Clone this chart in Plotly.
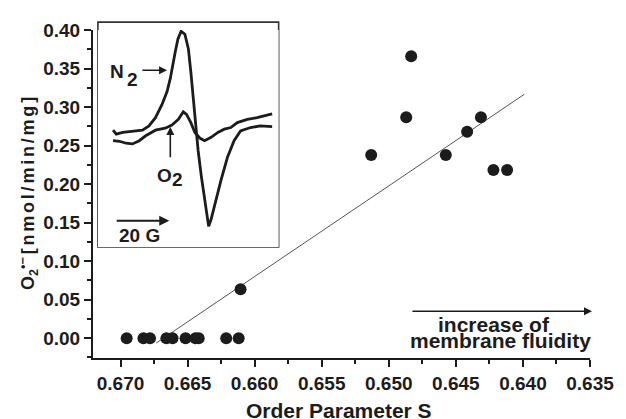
import plotly.graph_objects as go

# ---------------- data ----------------
# main scatter: order parameter S vs superoxide production
order_s = [0.66954, 0.66829, 0.66780, 0.66658, 0.66612, 0.66515, 0.66441, 0.66417,
           0.66212, 0.66119, 0.66105,
           0.65131, 0.64833, 0.64870, 0.64575, 0.64416, 0.64313, 0.64220, 0.64118]
superoxide = [0.0, 0.0, 0.0, 0.0, 0.0, 0.0, 0.0, 0.0,
              0.0, 0.0, 0.0636,
              0.238, 0.366, 0.287, 0.238, 0.268, 0.287, 0.2185, 0.2185]

# linear fit line end points
fit_x = [0.66734, 0.63989]
fit_y = [-0.0064, 0.3168]

# inset ESR spectra (field in G, intensity in arbitrary units)
n2_field = [5.6, 6.8, 9.2, 12.8, 16.5, 18.9, 21.3, 23.7, 25.6, 26.8, 27.6, 28.6, 29.6,
            30.8, 32.2, 33.5, 34.4, 35.3, 36.1, 37.1, 38.3, 39.5, 41.0, 41.9, 43.7,
            45.6, 48.0, 50.4, 52.8, 56.5, 60.1, 64.5]
n2_signal = [4, 0, 1.7, 2.7, 4, 8.3, 16.7, 30, 43.3, 56.7, 70, 83.3, 96.7,
             104.7, 101.7, 86.7, 63.3, 36.7, 10, -16.7, -43.3, -66.7, -94, -86.7, -66.7,
             -46.7, -23.3, -6.7, 3.3, 6.7, 8.3, 7.7]
o2_field = [5.6, 8.0, 10.4, 12.8, 15.3, 17.7, 21.3, 24.9, 27.4, 29.8, 31.6, 32.8, 34.4,
            35.9, 37.7, 39.5, 41.9, 44.4, 46.8, 49.2, 51.6, 55.3, 58.9, 61.3, 64.5]
o2_signal = [-6.7, -7.3, -9.3, -10, -6.7, -1.7, 4, 6, 9.3, 15, 22.7, 20, 11.7,
             1.7, -4, -6.7, -3.3, 1.7, 5, 6.7, 11.7, 15, 16.7, 18.3, 20.7]

x_range = [0.67205, 0.635]
y_range = [-0.0258, 0.4002]
x_ticks = [0.670, 0.665, 0.660, 0.655, 0.650, 0.645, 0.640, 0.635]
x_ticklabels = ["0.670", "0.665", "0.660", "0.655", "0.650", "0.645", "0.640", "0.635"]
x_minor = [0.6675, 0.6625, 0.6575, 0.6525, 0.6475, 0.6425, 0.6375]
y_ticks = [0.00, 0.05, 0.10, 0.15, 0.20, 0.25, 0.30, 0.35, 0.40]
y_ticklabels = ["0.00", "0.05", "0.10", "0.15", "0.20", "0.25", "0.30", "0.35", "0.40"]
y_minor = [-0.025, 0.025, 0.075, 0.125, 0.175, 0.225, 0.275, 0.325, 0.375]

INK = "#1c1c1c"
FONT = "Liberation Sans"

fig = go.Figure()

fig.add_trace(go.Scatter(x=fit_x, y=fit_y, mode="lines",
                         line=dict(color="#555555", width=1), showlegend=False,
                         hoverinfo="skip"))
fig.add_trace(go.Scatter(x=order_s, y=superoxide, mode="markers",
                         marker=dict(color=INK, size=12, line=dict(width=0)),
                         showlegend=False, cliponaxis=False))

fig.add_trace(go.Scatter(x=n2_field, y=n2_signal, mode="lines", xaxis="x2", yaxis="y2",
                         line=dict(color=INK, width=2.8), showlegend=False))
fig.add_trace(go.Scatter(x=o2_field, y=o2_signal, mode="lines", xaxis="x2", yaxis="y2",
                         line=dict(color=INK, width=2.8), showlegend=False))

tickfont = dict(family=FONT, size=19, color=INK)

# the page body adds an 8 px offset; the figure is sized to fill the window after it
fig.update_layout(
    width=618, height=411,
    margin=dict(l=85, r=27, t=16, b=61),
    paper_bgcolor="white", plot_bgcolor="white",
    xaxis=dict(range=x_range, tickmode="array", tickvals=x_ticks,
               ticktext=["<b>%s</b>" % t for t in x_ticklabels],
               ticks="outside", ticklen=7, tickwidth=1.5, tickcolor=INK,
               showline=True, linecolor=INK, linewidth=2, showgrid=False, zeroline=False,
               tickfont=tickfont,
               minor=dict(tickmode="array", tickvals=x_minor,
                          ticks="outside", ticklen=4, tickwidth=1.5, tickcolor=INK)),
    yaxis=dict(range=y_range, tickmode="array", tickvals=y_ticks,
               ticktext=["<b>%s</b>" % t for t in y_ticklabels],
               ticks="outside", ticklen=7, tickwidth=1.5, tickcolor=INK,
               showline=True, linecolor=INK, linewidth=2, showgrid=False, zeroline=False,
               tickfont=tickfont,
               minor=dict(tickmode="array", tickvals=y_minor,
                          ticks="outside", ticklen=4, tickwidth=1.5, tickcolor=INK)),
    xaxis2=dict(domain=[0.00988, 0.3735], range=[0, 66.9], anchor="y2",
                visible=False, fixedrange=True),
    yaxis2=dict(domain=[0.3383, 1.0], range=[-115, 106], anchor="x2",
                visible=False, fixedrange=True),
    showlegend=False,
)

# inset frame
fig.add_shape(type="rect", xref="paper", yref="paper", x0=0.00988, x1=0.3735,
              y0=0.3383, y1=1.024, line=dict(color="#333333", width=1.6),
              fillcolor="rgba(0,0,0,0)", layer="below")

ann = []
lab = dict(family=FONT, size=19, color=INK, weight="bold")
C = dict(xanchor="center", yanchor="middle", showarrow=False)
# inset labels
ann.append(dict(x=6.9, y=63.3, xref="x2", yref="y2", text="<b>N</b>", font=lab, **C))
ann.append(dict(x=12.8, y=55.3, xref="x2", yref="y2", text="<b>2</b>", font=lab, **C))
ann.append(dict(x=25.6, y=65, ax=15.9, ay=65, xref="x2", yref="y2", axref="x2", ayref="y2",
                text="", showarrow=True, arrowhead=2, arrowsize=1, arrowwidth=1.6, arrowcolor=INK))
ann.append(dict(x=24.8, y=-41.7, xref="x2", yref="y2", text="<b>O</b>", font=lab, **C))
ann.append(dict(x=29.5, y=-46.7, xref="x2", yref="y2", text="<b>2</b>", font=lab, **C))
ann.append(dict(x=26.8, y=7.3, ax=26.8, ay=-25, xref="x2", yref="y2", axref="x2", ayref="y2",
                text="", showarrow=True, arrowhead=2, arrowsize=1, arrowwidth=1.6, arrowcolor=INK))
ann.append(dict(x=26.4, y=-88.3, ax=6.4, ay=-88.3, xref="x2", yref="y2", axref="x2", ayref="y2",
                text="", showarrow=True, arrowhead=2, arrowsize=1, arrowwidth=2, arrowcolor=INK))
ann.append(dict(x=15.3, y=-103.3, xref="x2", yref="y2", text="<b>20 G</b>", font=lab, **C))

# membrane fluidity arrow and text
big = dict(family=FONT, size=21, color=INK, weight="bold")
ann.append(dict(x=0.63485, y=0.0349, ax=0.64835, ay=0.0349, xref="x", yref="y", axref="x", ayref="y",
                text="", showarrow=True, arrowhead=2, arrowsize=1, arrowwidth=1.6, arrowcolor=INK))
ann.append(dict(x=0.8077, y=0.1033, xref="paper", yref="paper", text="<b>increase of</b>",
                font=big, **C))
ann.append(dict(x=0.8205, y=0.0539, xref="paper", yref="paper", text="<b>membrane fluidity</b>",
                font=big, **C))

# axis titles
sp = '<span style="font-size:10px"> </span>'
ann.append(dict(x=0.495, y=-0.1587, xref="paper", yref="paper", text="<b>Order Parameter S</b>",
                font=dict(family=FONT, size=21, color=INK, weight="bold"), **C))
ann.append(dict(x=-0.131, y=0.503, xref="paper", yref="paper", textangle=-90,
                text="<b>O<sub>2</sub><sup>\u2022\u2212</sup>" + sp + sp.join("[nmol/min/mg]") + "</b>",
                font=dict(family=FONT, size=18, color=INK, weight="bold"), **C))

fig.update_layout(annotations=ann)

fig.write_html("out.html", config={"displayModeBar": False})
